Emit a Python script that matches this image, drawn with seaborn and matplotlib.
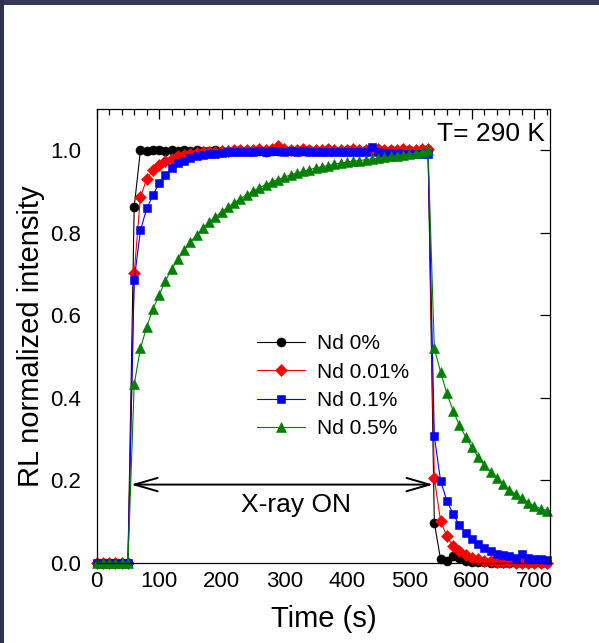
import matplotlib
matplotlib.use("Agg")
import matplotlib.pyplot as plt
from matplotlib.patches import Rectangle
from matplotlib.ticker import MultipleLocator, FormatStrFormatter
import seaborn as sns

# Sampling times (s)
time_s = [0, 10, 20, 30, 40, 50,
          60, 70, 80, 90, 100, 110, 120, 130, 140, 150,
          160, 170, 180, 190, 200, 210, 220, 230, 240, 250,
          260, 270, 280, 290, 300, 310, 320, 330, 340, 350,
          360, 370, 380, 390, 400, 410, 420, 430, 440, 450,
          460, 470, 480, 490, 500, 510, 520, 530,
          540, 550, 560, 570, 580, 590, 600, 610, 620, 630,
          640, 650, 660, 670, 680, 690, 700, 710, 720]

# Normalized RL intensity, one list per Nd concentration
nd_0 = [0, 0, 0, 0, 0, 0,
        0.863, 1.000, 0.999, 1.000, 1.000, 0.999, 1.000, 0.998, 1.000, 0.999,
        1.000, 0.999, 0.998, 1.000, 0.999, 0.997, 0.999, 1.000, 0.998, 0.999,
        0.998, 0.996, 0.999, 0.998, 1.000, 0.999, 0.998, 0.999, 1.000, 0.999,
        0.999, 1.000, 0.998, 0.999, 1.000, 0.999, 0.998, 1.000, 0.999, 1.000,
        0.999, 1.000, 0.999, 0.998, 1.000, 0.999, 1.000, 1.000,
        0.098, 0.009, 0.006, 0.016, 0.012, 0.005, 0.003, 0.002, 0.002, 0.001,
        0.001, 0.001, 0.000, 0.000, 0.000, 0.000, 0.000, 0.000, 0.000]

nd_001 = [0, 0, 0, 0, 0, 0,
          0.702, 0.887, 0.930, 0.951, 0.964, 0.973, 0.980, 0.985, 0.988, 0.991,
          0.993, 0.995, 0.996, 0.997, 0.998, 0.999, 1.000, 1.000, 1.001, 1.000,
          1.002, 1.001, 1.003, 1.010, 1.002, 1.001, 1.000, 1.002, 1.001, 1.000,
          1.001, 1.002, 1.000, 1.001, 1.000, 1.002, 1.001, 1.000, 1.001, 1.002,
          1.000, 1.001, 1.000, 1.002, 1.001, 1.000, 1.002, 1.003,
          0.205, 0.102, 0.065, 0.041, 0.028, 0.019, 0.013, 0.009, 0.006, 0.004,
          0.003, 0.002, 0.002, 0.001, 0.001, 0.001, 0.000, 0.000, 0.000]

nd_01 = [0, 0, 0, 0, 0, 0,
         0.685, 0.806, 0.859, 0.891, 0.921, 0.939, 0.956, 0.968, 0.975, 0.981,
         0.985, 0.988, 0.990, 0.992, 0.994, 0.995, 0.996, 0.996, 0.997, 0.997,
         0.998, 0.997, 0.998, 0.998, 0.997, 0.998, 0.997, 0.998, 0.996, 0.997,
         0.996, 0.997, 0.996, 0.995, 0.996, 0.995, 0.996, 0.995, 1.007, 0.995,
         0.994, 0.993, 0.993, 0.992, 0.992, 0.991, 0.990, 0.990,
         0.307, 0.199, 0.151, 0.119, 0.092, 0.072, 0.057, 0.045, 0.036, 0.029,
         0.023, 0.019, 0.016, 0.013, 0.022, 0.012, 0.010, 0.009, 0.008]

nd_05 = [0, 0, 0, 0, 0, 0,
         0.433, 0.520, 0.572, 0.615, 0.650, 0.684, 0.712, 0.736, 0.758, 0.778,
         0.795, 0.811, 0.826, 0.839, 0.851, 0.862, 0.873, 0.883, 0.892, 0.901,
         0.909, 0.916, 0.923, 0.929, 0.935, 0.940, 0.945, 0.949, 0.953, 0.957,
         0.960, 0.963, 0.966, 0.969, 0.971, 0.973, 0.975, 0.977, 0.979, 0.981,
         0.983, 0.985, 0.987, 0.989, 0.991, 0.993, 0.995, 1.000,
         0.520, 0.463, 0.411, 0.369, 0.334, 0.306, 0.280, 0.257, 0.237, 0.221,
         0.205, 0.191, 0.178, 0.167, 0.157, 0.146, 0.138, 0.132, 0.127]

labels = ["Nd 0%", "Nd 0.01%", "Nd 0.1%", "Nd 0.5%"]
colors = ["black", "#ff0000", "#0000ff", "#008000"]
markers = ["o", "D", "s", "^"]
marker_sizes = [6.5, 5.8, 6.3, 6.9]

sns.set_style("white")
plt.rcParams["font.family"] = ["Liberation Sans", "DejaVu Sans"]
plt.rcParams["text.color"] = "black"
plt.rcParams["axes.labelcolor"] = "black"
plt.rcParams["xtick.color"] = "black"
plt.rcParams["ytick.color"] = "black"

fig = plt.figure(figsize=(5.99, 6.43), dpi=100)
fig.patch.set_facecolor("white")
# dark frame strips along the top and left edges
fig.add_artist(Rectangle((0, 1 - 5 / 643), 1, 5 / 643, transform=fig.transFigure,
                         facecolor="#37375a", edgecolor="none", zorder=10))
fig.add_artist(Rectangle((0, 0), 4 / 599, 1, transform=fig.transFigure,
                         facecolor="#30304f", edgecolor="none", zorder=10))

ax = fig.add_axes([0.1614, 0.1244, 0.7568, 0.7061])

for vals, lab, col, mk, ms in zip([nd_0, nd_001, nd_01, nd_05], labels, colors,
                                  markers, marker_sizes):
    sns.lineplot(x=time_s, y=vals, ax=ax, color=col, marker=mk, markersize=ms,
                 markeredgecolor=col, markeredgewidth=0.4, linewidth=0.8,
                 label=lab, estimator=None, sort=False, clip_on=False)

ax.set_xlim(0, 725)
ax.set_ylim(0, 1.1)
ax.xaxis.set_major_locator(MultipleLocator(100))
ax.xaxis.set_minor_locator(MultipleLocator(20))
ax.yaxis.set_major_locator(MultipleLocator(0.2))
ax.yaxis.set_major_formatter(FormatStrFormatter("%.1f"))

ax.tick_params(axis="both", which="both", direction="in", top=True, right=True,
               colors="black", labelcolor="black", width=0.9)
ax.tick_params(axis="both", which="major", length=7, labelsize=16)
ax.tick_params(axis="x", which="minor", length=4.5)
ax.tick_params(axis="x", which="major", pad=6)
ax.tick_params(axis="y", which="major", pad=11)

for sp in ax.spines.values():
    sp.set_color("black")
    sp.set_linewidth(0.9)

ax.set_xlabel("Time (s)", fontsize=21, labelpad=9, color="black")
ax.set_ylabel("RL normalized intensity", fontsize=21, labelpad=4, color="black")

ax.text(0.989, 0.971, "T= 290 K", transform=ax.transAxes, ha="right", va="top",
        fontsize=19, color="black")

ax.annotate("", xy=(55, 0.19), xytext=(538, 0.19),
            arrowprops=dict(arrowstyle="<->,head_length=0.83,head_width=0.24",
                            color="black", lw=1.4, shrinkA=0, shrinkB=0,
                            mutation_scale=20))
ax.text(318, 0.123, "X-ray ON", ha="center", va="baseline", fontsize=19,
        color="black")

leg = ax.legend(loc="center", bbox_to_anchor=(0.522, 0.389), frameon=False,
                fontsize=15, handlelength=2.3, handletextpad=0.6,
                labelspacing=0.45, borderpad=0, borderaxespad=0)
for t in leg.get_texts():
    t.set_color("black")

fig.savefig("out.png", dpi=100)
